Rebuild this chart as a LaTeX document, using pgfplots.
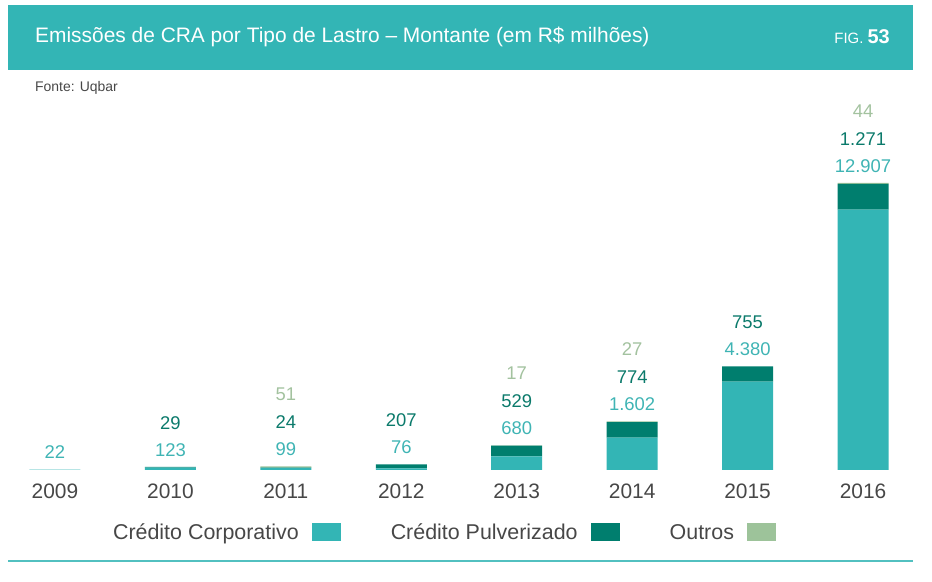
\documentclass[border=0pt]{standalone}
\usepackage{fontspec}
\setmainfont{Liberation Sans}
\usepackage{pgfplots}
\pgfplotsset{compat=1.18}
\definecolor{band}{HTML}{33B5B5}
\definecolor{corp}{HTML}{33B5B5}
\definecolor{pulv}{HTML}{007E6E}
\definecolor{outros}{HTML}{9DC39A}
\definecolor{corptxt}{HTML}{3FB4B4}
\definecolor{pulvtxt}{HTML}{0B7A6B}
\definecolor{outtxt}{HTML}{A3C29F}
\definecolor{txt}{HTML}{474747}
\begin{document}
\begin{tikzpicture}[x=1bp,y=1bp]
\path[use as bounding box] (0,0) rectangle (932,582);
% title band
\fill[band] (8,512) rectangle (913,577);
\node[anchor=west, text=white, inner sep=0pt, font=\fontsize{21}{25}\selectfont] at (35,545)
  {Emissões de CRA por Tipo de Lastro – Montante (em R\$ milhões)};
\node[anchor=east, text=white, inner sep=0pt] at (890,545)
  {\fontsize{15}{18}\selectfont FIG. {\fontsize{20}{24}\selectfont\bfseries 53}};
\node[anchor=west, text=txt, inner sep=0pt, font=\fontsize{14}{17}\selectfont] at (35,494) {Fonte: Uqbar};
\draw[band!85, line width=2bp] (8,21) -- (913,21);

% bars
\begin{axis}[
  at={(8.8bp,112bp)}, anchor=south west,
  scale only axis, width=900.4bp, height=322.9bp,
  xmin=-0.4, xmax=7.4, ymin=0, ymax=16000,
  ybar stacked, bar width=51bp,
  axis x line*=bottom, axis y line=none,
  x axis line style={draw=none},
  xtick={0,...,7},
  xticklabels={2009,2010,2011,2012,2013,2014,2015,2016},
  major tick length=0pt,
  x tick label style={font=\fontsize{21}{25}\selectfont, text=txt, anchor=center, yshift=-21bp},
  legend plot pos=right,
  legend columns=3,
  legend image code/.code={\fill[#1, draw=none] (0bp,-9bp) rectangle (29bp,9bp);},
  legend style={at={(0.4828,-0.192)}, anchor=center, draw=none, fill=none,
    font=\fontsize{21.5}{25}\selectfont, text=txt,
    nodes={text depth=0pt},
    /tikz/every odd column/.append style={column sep=11bp},
    /tikz/every even column/.append style={column sep=48bp}},
]
\addplot[fill=corp, draw=none] coordinates {(0,22)(1,123)(2,99)(3,76)(4,680)(5,1602)(6,4380)(7,12907)};
\addlegendentry{Crédito Corporativo}
\addplot[fill=pulv, draw=none] coordinates {(0,0)(1,29)(2,24)(3,207)(4,529)(5,774)(6,755)(7,1271)};
\addlegendentry{Crédito Pulverizado}
\addplot[fill=outros, draw=none] coordinates {(0,0)(1,0)(2,51)(3,0)(4,17)(5,27)(6,0)(7,44)};
\addlegendentry{Outros}
\end{axis}

% value labels above each bar (placed at the bar totals)
\begin{axis}[
  at={(8.8bp,112bp)}, anchor=south west,
  scale only axis, width=900.4bp, height=322.9bp,
  xmin=-0.4, xmax=7.4, ymin=0, ymax=16000,
  hide axis, clip=false,
  nodes near coords, point meta=explicit symbolic,
  every node near coord/.append style={anchor=center, font=\fontsize{18.5}{22}\selectfont},
]
\addplot[draw=none, mark=none, every node near coord/.append style={yshift=17bp, text=corptxt}]
  coordinates {(0,22)[22] (1,152)[123] (2,174)[99] (3,283)[76] (4,1226)[680] (5,2403)[1.602] (6,5135)[4.380] (7,14222)[12.907]};
\addplot[draw=none, mark=none, every node near coord/.append style={yshift=44bp, text=pulvtxt}]
  coordinates {(1,152)[29] (2,174)[24] (3,283)[207] (4,1226)[529] (5,2403)[774] (6,5135)[755] (7,14222)[1.271]};
\addplot[draw=none, mark=none, every node near coord/.append style={yshift=72bp, text=outtxt}]
  coordinates {(2,174)[51] (4,1226)[17] (5,2403)[27] (7,14222)[44]};
\end{axis}
\end{tikzpicture}
\end{document}
